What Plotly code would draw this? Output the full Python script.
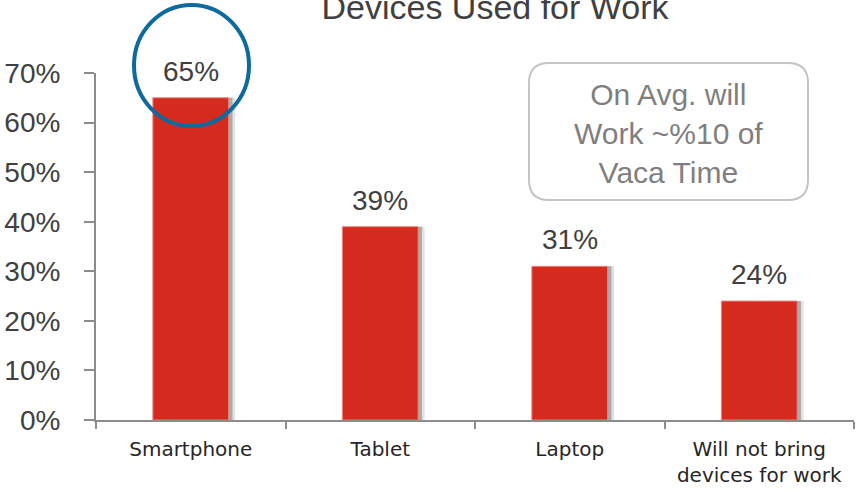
import plotly.graph_objects as go

categories = ["Smartphone", "Tablet", "Laptop", "Will not bring<br>devices for work"]
values = [0.65, 0.39, 0.31, 0.24]
y_ticks = [0, 0.1, 0.2, 0.3, 0.4, 0.5, 0.6, 0.7]
title_text = "Devices Used for Work"
note_text = "On Avg. will<br>Work ~%10 of<br>Vaca Time"

W, H = 856, 491
ML, MR, MT, MB = 96, 2, 73, 71
PW, PH = W - ML - MR, H - MT - MB

def px(xp):
    return (xp - ML) / PW

def py(yp):
    return (H - MB - yp) / PH

BAR_W = 0.4
fig = go.Figure()
# soft shadow to the right of each bar (two layers for a gradient feel)
for off, col in [(0.034, "rgba(120,120,120,0.22)"), (0.02, "rgba(90,90,90,0.4)")]:
    fig.add_trace(go.Bar(x=categories, y=values, width=BAR_W, offset=-BAR_W / 2 + off,
                         marker=dict(color=col, line=dict(width=0)),
                         hoverinfo="skip", showlegend=False))
fig.add_trace(go.Bar(x=categories, y=values, width=BAR_W, offset=-BAR_W / 2,
                     marker=dict(color="#d42b1e", line=dict(color="#e88a80", width=1)),
                     showlegend=False))

for c, v in zip(categories, values):
    fig.add_annotation(x=c, y=v, text=f"{round(v * 100)}%", showarrow=False,
                       xanchor="center", yanchor="bottom", yshift=9,
                       font=dict(family="Liberation Sans, Arial", size=28, color="#404040"))

# blue circle highlighting the first bar label
fig.add_shape(type="circle", xref="paper", yref="paper",
              x0=px(134), x1=px(249), y0=py(126), y1=py(5),
              line=dict(color="#0d6a9e", width=4))

# rounded note box
bx0, bx1, by0, by1, r = 529, 808, 63, 200, 20
pts = [
    f"M {px(bx0 + r)},{py(by0)}",
    f"L {px(bx1 - r)},{py(by0)}",
    f"Q {px(bx1)},{py(by0)} {px(bx1)},{py(by0 + r)}",
    f"L {px(bx1)},{py(by1 - r)}",
    f"Q {px(bx1)},{py(by1)} {px(bx1 - r)},{py(by1)}",
    f"L {px(bx0 + r)},{py(by1)}",
    f"Q {px(bx0)},{py(by1)} {px(bx0)},{py(by1 - r)}",
    f"L {px(bx0)},{py(by0 + r)}",
    f"Q {px(bx0)},{py(by0)} {px(bx0 + r)},{py(by0)} Z",
]
fig.add_shape(type="path", xref="paper", yref="paper", path=" ".join(pts),
              line=dict(color="#c4c4c4", width=2), fillcolor="white", layer="below")
fig.add_annotation(xref="paper", yref="paper", x=px((bx0 + bx1) / 2), y=py((by0 + by1) / 2 + 2),
                   xanchor="center", yanchor="middle",
                   text=note_text, showarrow=False, align="center",
                   font=dict(family="Liberation Sans, Arial", size=30, color="#7f7f7f"))

fig.update_layout(
    width=W, height=H,
    margin=dict(l=ML, r=MR, t=MT, b=MB, autoexpand=False),
    paper_bgcolor="white", plot_bgcolor="rgba(0,0,0,0)",
    barmode="overlay", bargap=0.6,
    title=dict(text=title_text, x=495 / W, xanchor="center", y=1 - 19 / H, yanchor="bottom",
               xref="container", yref="container",
               font=dict(family="Liberation Sans, Arial", size=34, color="#404040")),
)
fig.update_yaxes(range=[0, 0.7], tickvals=y_ticks, tickformat=".0%", automargin=False,
                 showgrid=False, zeroline=False,
                 showline=True, linecolor="#8c8c8c", linewidth=2,
                 ticks="outside", ticklen=10, tickcolor="#8c8c8c", tickwidth=2,
                 ticklabelstandoff=18,
                 tickfont=dict(family="Liberation Sans, Arial", size=28, color="#404040"))
fig.update_xaxes(range=[-0.5, 3.5], automargin=False, showgrid=False,
                 showline=True, linecolor="#8c8c8c", linewidth=2,
                 ticks="outside", tickson="boundaries", ticklen=7, tickcolor="#8c8c8c", tickwidth=2,
                 ticklabelstandoff=10,
                 tickfont=dict(family="DejaVu Sans", size=20, color="#262626"))

fig.write_html("out.html", config={"displayModeBar": False},
               post_script="document.body.style.margin='0';document.body.style.overflow='hidden';")
